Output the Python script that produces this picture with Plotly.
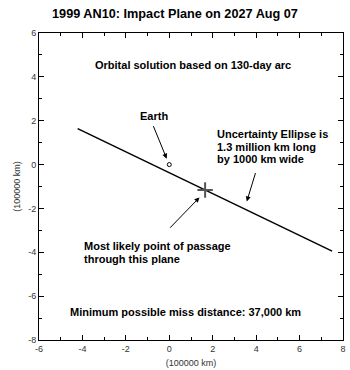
import plotly.graph_objects as go

# Data (units of 100000 km)
ellipse_x = [-4.22, 7.5]
ellipse_y = [1.64, -3.95]
earth_x = [0.0]
earth_y = [0.0]
nominal_x = [1.65]
nominal_y = [-1.16]
x_ticks = [-6, -4, -2, 0, 2, 4, 6, 8]
x_tick_labels = ["-6", "-4", "-2", "0", "2", "4", "6", "8"]
y_ticks = [-8, -6, -4, -2, 0, 2, 4, 6]
y_tick_labels = ["-8", "-6", "-4", "-2", "0", "2", "4", "6"]

FONT = "Liberation Sans, Arial, Helvetica, sans-serif"

fig = go.Figure()
fig.add_trace(go.Scatter(x=ellipse_x, y=ellipse_y, mode="lines",
                         line=dict(color="black", width=1.5), hoverinfo="skip"))
fig.add_trace(go.Scatter(x=earth_x, y=earth_y, mode="markers",
                         marker=dict(symbol="circle-open", size=4, color="black",
                                     line=dict(width=1, color="black"))))
fig.add_trace(go.Scatter(x=nominal_x, y=nominal_y, mode="markers",
                         marker=dict(symbol="cross-thin", size=11, color="#555",
                                     line=dict(width=2, color="#555"))))

bold = dict(family=FONT, size=11, color="black")


def txt(x, y, s, anchor="left"):
    return dict(x=x, y=y, text="<b>" + s + "</b>", showarrow=False, font=bold,
                xanchor=anchor, align=anchor)


anns = [
    txt(1.07, 4.55, "Orbital solution based on 130-day arc", "center"),
    txt(-0.71, 2.23, "Earth", "center"),
    txt(2.12, 1.39, "Uncertainty Ellipse is"),
    txt(2.12, 0.82, "1.3 million km long"),
    txt(2.12, 0.25, "by 1000 km wide"),
    txt(-4.04, -3.73, "Most likely point of passage"),
    txt(-4.04, -4.30, "through this plane"),
    txt(0.75, -6.73, "Minimum possible miss distance: 37,000 km", "center"),
    # arrows
    dict(x=-0.12, y=0.27, ax=-0.76, ay=1.82, axref="x", ayref="y", text="", showarrow=True,
         arrowhead=2, arrowsize=1, arrowwidth=1, arrowcolor="black"),
    dict(x=3.57, y=-1.68, ax=3.99, ay=-0.32, axref="x", ayref="y", text="", showarrow=True,
         arrowhead=2, arrowsize=1, arrowwidth=1, arrowcolor="black"),
    dict(x=1.39, y=-1.5, ax=-0.03, ay=-2.95, axref="x", ayref="y", text="", showarrow=True,
         arrowhead=2, arrowsize=1, arrowwidth=1, arrowcolor="black"),
]

axis_common = dict(showgrid=False, zeroline=False, showline=True, linecolor="black",
                   linewidth=1, mirror="ticks", ticks="inside", ticklen=5, tickwidth=1,
                   tickcolor="black", tickfont=dict(family=FONT, size=9, color="#333"),
                   minor=dict(ticks="inside", ticklen=3, dtick=1, tickcolor="black", tickwidth=1))

fig.update_layout(
    width=350, height=370,
    margin=dict(l=39, r=4, t=33, b=29),
    paper_bgcolor="white", plot_bgcolor="white",
    showlegend=False,
    title=dict(text="<b>1999 AN10: Impact Plane on 2027 Aug 07</b>", x=0.5, xanchor="center",
               y=1 - 14 / 370, yanchor="middle",
               font=dict(family=FONT, size=12.7, color="black")),
    xaxis=dict(range=[-6, 8], tickvals=x_ticks, ticktext=x_tick_labels,
               title=dict(text="(100000 km)", standoff=6, font=dict(family=FONT, size=9, color="#333")),
               **axis_common),
    yaxis=dict(range=[-8, 6], tickvals=y_ticks, ticktext=y_tick_labels,
               title=dict(text="(100000 km)", standoff=6, font=dict(family=FONT, size=9, color="#333")),
               **axis_common),
    annotations=anns,
)

fig.write_html("out.html", config={"displayModeBar": False},
               post_script="document.body.style.margin='0';document.body.style.overflow='hidden';")
